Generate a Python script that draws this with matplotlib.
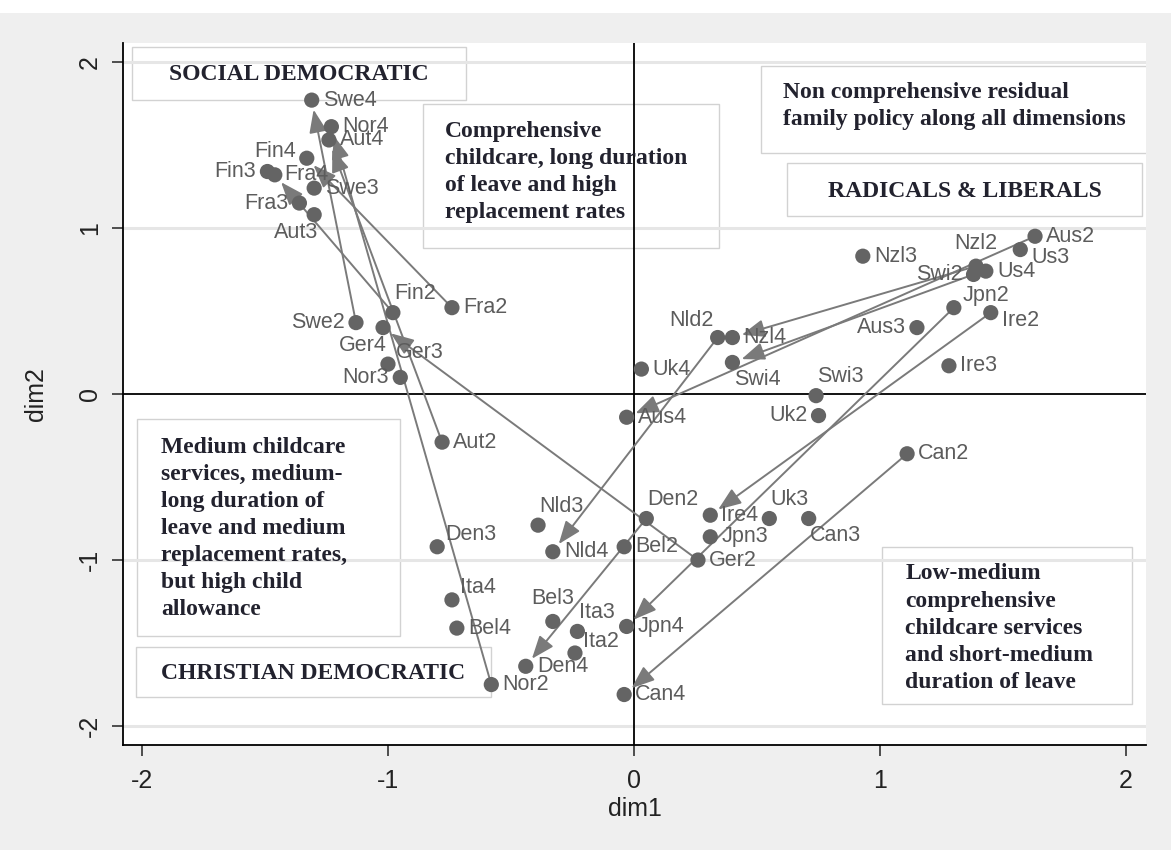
import matplotlib.pyplot as plt
import matplotlib.patches as patches

plt.rcParams["axes.unicode_minus"] = False

# ── Country positions on the two dimensions, by wave ──────────────────────────
countries = ["Aus", "Aut", "Bel", "Can", "Den", "Fin", "Fra", "Ger", "Ire",
             "Ita", "Jpn", "Nld", "Nor", "Nzl", "Swe", "Swi", "Uk", "Us"]

dim1_w2 = [1.63, -0.78, -0.04, 1.11, 0.05, -0.98, -0.74, 0.26, 1.45,
           -0.24, 1.30, 0.34, -0.58, 1.39, -1.13, 1.38, 0.75, None]
dim2_w2 = [0.95, -0.29, -0.92, -0.36, -0.75, 0.49, 0.52, -1.00, 0.49,
           -1.56, 0.52, 0.34, -1.75, 0.77, 0.43, 0.72, -0.13, None]

dim1_w3 = [1.15, -1.30, -0.33, 0.71, -0.80, -1.49, -1.36, -1.00, 1.28,
           -0.23, 0.31, -0.39, -0.95, 0.93, -1.30, 0.74, 0.55, 1.57]
dim2_w3 = [0.40, 1.08, -1.37, -0.75, -0.92, 1.34, 1.15, 0.18, 0.17,
           -1.43, -0.86, -0.79, 0.10, 0.83, 1.24, -0.01, -0.75, 0.87]

dim1_w4 = [-0.03, -1.24, -0.72, -0.04, -0.44, -1.46, -1.33, -1.02, 0.31,
           -0.74, -0.03, -0.33, -1.23, 0.40, -1.31, 0.40, 0.03, 1.43]
dim2_w4 = [-0.14, 1.53, -1.41, -1.81, -1.64, 1.32, 1.42, 0.40, -0.73,
           -1.24, -1.40, -0.95, 1.61, 0.34, 1.77, 0.19, 0.15, 0.74]

# countries whose wave-2 -> wave-4 move is drawn
arrow_countries = ["Aus", "Aut", "Can", "Den", "Fin", "Fra", "Ger", "Ire",
                   "Jpn", "Nld", "Nor", "Nzl", "Swe", "Swi"]

# marker label clock positions (Stata style mlabvpos)
labpos_w2 = dict(Aus=3, Aut=3, Bel=3, Can=3, Den=1, Fin=1, Fra=3, Ger=3, Ire=4,
                 Ita=2, Jpn=2, Nld=10, Nor=3, Nzl=12, Swe=9, Swi=9, Uk=9)
labpos_w3 = dict(Aus=9, Aut=7, Bel=12, Can=5, Den=2, Fin=9, Fra=9, Ger=2, Ire=3,
                 Ita=1, Jpn=3, Nld=1, Nor=9, Nzl=3, Swe=3, Swi=1, Uk=1, Us=4)
labpos_w4 = dict(Aus=3, Aut=3, Bel=3, Can=3, Den=3, Fin=12, Fra=6, Ger=7, Ire=3,
                 Ita=2, Jpn=3, Nld=3, Nor=3, Nzl=3, Swe=3, Swi=5, Uk=3, Us=3)

# clock -> (dx pt, dy pt, ha, va)
CLOCK = {
    12: (0, 9, "center", "bottom"),
    1: (1, 6, "left", "bottom"),
    2: (6, 1, "left", "bottom"),
    3: (8, 0, "left", "center"),
    4: (8, 2, "left", "top"),
    5: (1, -5, "left", "top"),
    6: (0, -4, "center", "top"),
    7: (3, -5, "right", "top"),
    9: (-8, 0, "right", "center"),
    10: (-3, 5, "right", "bottom"),
}

# ── Regime boxes: (x0, y0, x1, y1) in data units, text, text anchor ─────────
BOX_KW = dict(fontsize=17, fontweight="bold", color="#22222e",
              family="Liberation Serif", linespacing=1.38, zorder=6)
boxes = [
    ((-2.041, 1.771, -0.683, 2.090), "SOCIAL DEMOCRATIC", (-1.362, 1.922), "center"),
    ((-0.858, 0.880, 0.346, 1.747),
     "Comprehensive\nchildcare, long duration\nof leave and high\nreplacement rates",
     (-0.768, 1.335), "left"),
    ((0.516, 1.452, 2.085, 1.976),
     "Non comprehensive residual\nfamily policy along all dimensions",
     (0.606, 1.732), "left"),
    ((0.622, 1.072, 2.065, 1.392), "RADICALS & LIBERALS", (1.346, 1.217), "center"),
    ((-2.020, -1.458, -0.951, -0.151),
     "Medium childcare\nservices, medium-\nlong duration of\nleave and medium\n"
     "replacement rates,\nbut high child\nallowance",
     (-1.923, -0.810), "left"),
    ((-2.024, -1.825, -0.581, -1.524), "CHRISTIAN DEMOCRATIC", (-1.305, -1.681), "center"),
    ((1.008, -1.867, 2.024, -0.922),
     "Low-medium\ncomprehensive\nchildcare services\nand short-medium\nduration of leave",
     (1.102, -1.410), "left"),
]

W, H = 1171, 850
fig = plt.figure(figsize=(W / 100, H / 100), dpi=100)
fig.patch.set_facecolor("#efefef")
fig.add_artist(patches.Rectangle((0, 1 - 13 / H), 1, 13 / H, transform=fig.transFigure,
                                 fc="white", ec="none", zorder=0))

ax = fig.add_axes([123 / W, 105 / H, (1146 - 123) / W, (745 - 43) / H])
ax.set_facecolor("white")
ax.set_xlim(-2.077, 2.081)
ax.set_ylim(-2.114, 2.114)

for sp in ("top", "right"):
    ax.spines[sp].set_visible(False)
for sp in ("left", "bottom"):
    ax.spines[sp].set_color("black")
    ax.spines[sp].set_linewidth(1.3)

ax.set_xticks([-2, -1, 0, 1, 2])
ax.set_yticks([-2, -1, 0, 1, 2])
ax.tick_params(length=8, width=1.1, labelsize=18, colors="#222222")
ax.tick_params(axis="x", pad=9)
ax.tick_params(axis="y", pad=7)
for t in ax.get_yticklabels():
    t.set_rotation(90)
    t.set_va("center")
for t in ax.get_xticklabels() + ax.get_yticklabels():
    t.set_family("Liberation Sans")

ax.set_xlabel("dim1", fontsize=18, family="Liberation Sans", color="#222222", labelpad=3)
ax.set_ylabel("dim2", fontsize=18, family="Liberation Sans", color="#222222", labelpad=22)

# grid at +/-1, +/-2 and the reference axes through the origin
for yv in (-2, -1, 1, 2):
    ax.axhline(yv, color="#e6e6e6", lw=2.2, zorder=1.5)
ax.axhline(0, color="black", lw=1.3, zorder=2)
ax.axvline(0, color="black", lw=1.3, zorder=2)

for (x0, y0, x1, y1), txt, (tx, ty), ha in boxes:
    ax.add_patch(patches.Rectangle((x0, y0), x1 - x0, y1 - y0, fc="white",
                                   ec="#d2d2d2", lw=1.0, zorder=1))
    ax.text(tx, ty, txt, ha=ha, va="center", **BOX_KW)

# arrows wave 2 -> wave 4
for c in arrow_countries:
    i = countries.index(c)
    ax.annotate("", xy=(dim1_w4[i], dim2_w4[i]), xytext=(dim1_w2[i], dim2_w2[i]),
                arrowprops=dict(arrowstyle="-|>,head_length=0.7,head_width=0.27",
                                color="#7a7a7a", lw=1.4, mutation_scale=20,
                                shrinkA=0, shrinkB=7),
                zorder=3)

# markers and labels
for wave, d1, d2, pos in [(2, dim1_w2, dim2_w2, labpos_w2),
                          (3, dim1_w3, dim2_w3, labpos_w3),
                          (4, dim1_w4, dim2_w4, labpos_w4)]:
    for c, x, y in zip(countries, d1, d2):
        if x is None:
            continue
        ax.scatter(x, y, s=120, color="#646464", edgecolors="none", zorder=4)
        dx, dy, ha, va = CLOCK[pos[c]]
        ax.annotate(f"{c}{wave}", (x, y), xytext=(dx, dy), textcoords="offset points",
                    ha=ha, va=va, fontsize=15.5, family="Liberation Sans",
                    color="#5c5c5c", zorder=5)

fig.savefig("out.png", dpi=100, facecolor=fig.get_facecolor())
